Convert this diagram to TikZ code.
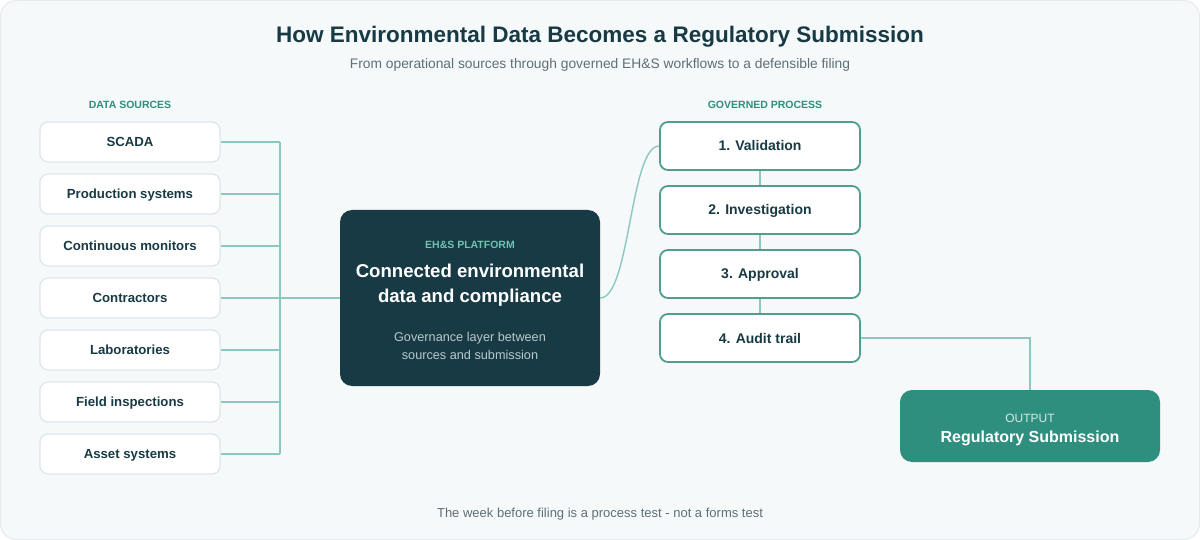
\documentclass[tikz,border=0pt]{standalone}
\usepackage{fontspec}
\setmainfont{Liberation Sans}
\definecolor{bgc}{HTML}{F5F9FA}
\definecolor{bgborder}{HTML}{E3EBEE}
\definecolor{ink}{HTML}{173A45}
\definecolor{subgray}{HTML}{5F6F76}
\definecolor{teal}{HTML}{2E8F7D}
\definecolor{lineteal}{HTML}{8DC8BE}
\definecolor{srcborder}{HTML}{DCE6EA}
\definecolor{procborder}{HTML}{4F9F90}
\definecolor{outfill}{HTML}{2E8F7E}
\definecolor{platlabel}{HTML}{6FC4B0}
\definecolor{platsub}{HTML}{B9C9CD}
\begin{document}
\begin{tikzpicture}[x=1pt,y=-1pt,
  srcbox/.style={draw=srcborder,line width=1.2pt,fill=white,rounded corners=8pt,minimum width=180pt,minimum height=40pt,inner sep=0pt,text height=9.6pt,text depth=0.4pt,font=\fontsize{13.2}{15}\selectfont\bfseries,text=ink},
  procbox/.style={draw=procborder,line width=1.8pt,fill=white,rounded corners=8pt,minimum width=200pt,minimum height=48pt,inner sep=0pt,text height=10.2pt,text depth=0.2pt,font=\fontsize{14}{16}\selectfont\bfseries,text=ink},
  conn/.style={draw=lineteal,line width=1.4pt},
  sechead/.style={font=\fontsize{10.5}{12}\selectfont\bfseries,text=teal,inner sep=0pt}
]
\useasboundingbox (0,0) rectangle (1200,540);
\fill[bgc,draw=bgborder,line width=1pt,rounded corners=16pt] (0.5,0.5) rectangle (1199.5,539.5);

\node[font=\fontsize{22.5}{25}\selectfont\bfseries,text=ink] (title) at (600,36.5) {How Environmental Data Becomes a Regulatory Submission};
\node[font=\fontsize{13.8}{16}\selectfont,text=subgray] (subtitle) at (600,65) {From operational sources through governed EH\&S workflows to a defensible filing};

\node[sechead] (dshead) at (130,105) {DATA SOURCES};
\node[sechead] (gphead) at (765,105) {GOVERNED PROCESS};

\node[srcbox] (s1) at (130,142) {SCADA};
\node[srcbox] (s2) at (130,194) {Production systems};
\node[srcbox] (s3) at (130,246) {Continuous monitors};
\node[srcbox] (s4) at (130,298) {Contractors};
\node[srcbox] (s5) at (130,350) {Laboratories};
\node[srcbox] (s6) at (130,402) {Field inspections};
\node[srcbox] (s7) at (130,454) {Asset systems};

\coordinate (bustop) at (280,142);
\coordinate (busbot) at (280,454);
\coordinate (busmid) at (280,298);

\node[fill=ink,rounded corners=12pt,minimum width=260pt,minimum height=176pt,inner sep=0pt] (plat) at (470,298) {};
\node[font=\fontsize{10.5}{12}\selectfont\bfseries,text=platlabel] (platlab) at (470,245) {EH\&S PLATFORM};
\node[font=\fontsize{18.6}{25}\selectfont\bfseries,text=white,align=center] (plattitle) at (470,285.5) {Connected environmental\\data and compliance};
\node[font=\fontsize{12.7}{18}\selectfont,text=platsub,align=center] (platsubt) at (470,346) {Governance layer between\\sources and submission};

\foreach \i in {1,...,7} { \draw[conn] (s\i.east) -- (s\i.east -| bustop); }
\draw[conn] (bustop) -- (busbot);
\draw[conn] (busmid) -- (plat.west);

\node[procbox] (p1) at (760,146) {1. Validation};
\node[procbox] (p2) at (760,210) {2. Investigation};
\node[procbox] (p3) at (760,274) {3. Approval};
\node[procbox] (p4) at (760,338) {4. Audit trail};

\draw[conn] (plat.east) .. controls (630,298) and (630,146) .. (p1.west);
\draw[draw=lineteal,line width=1.2pt] (p1.south) -- (p2.north);
\draw[draw=lineteal,line width=1.2pt] (p2.south) -- (p3.north);
\draw[draw=lineteal,line width=1.2pt] (p3.south) -- (p4.north);

\node[fill=outfill,rounded corners=12pt,minimum width=260pt,minimum height=72pt,inner sep=0pt] (out) at (1030,426) {};
\node[font=\fontsize{12}{14}\selectfont,text=white!80!outfill] (outlab) at (1030,418) {OUTPUT};
\node[font=\fontsize{16}{18}\selectfont\bfseries,text=white] (outtitle) at (1030,438) {Regulatory Submission};
\coordinate (corner) at (1030,338);
\draw[conn] (p4.east) -- (corner) -- (out.north);

\node[font=\fontsize{13}{15}\selectfont,text=subgray] (footer) at (600,514.5) {The week before filing is a process test - not a forms test};
\end{tikzpicture}
\end{document}
